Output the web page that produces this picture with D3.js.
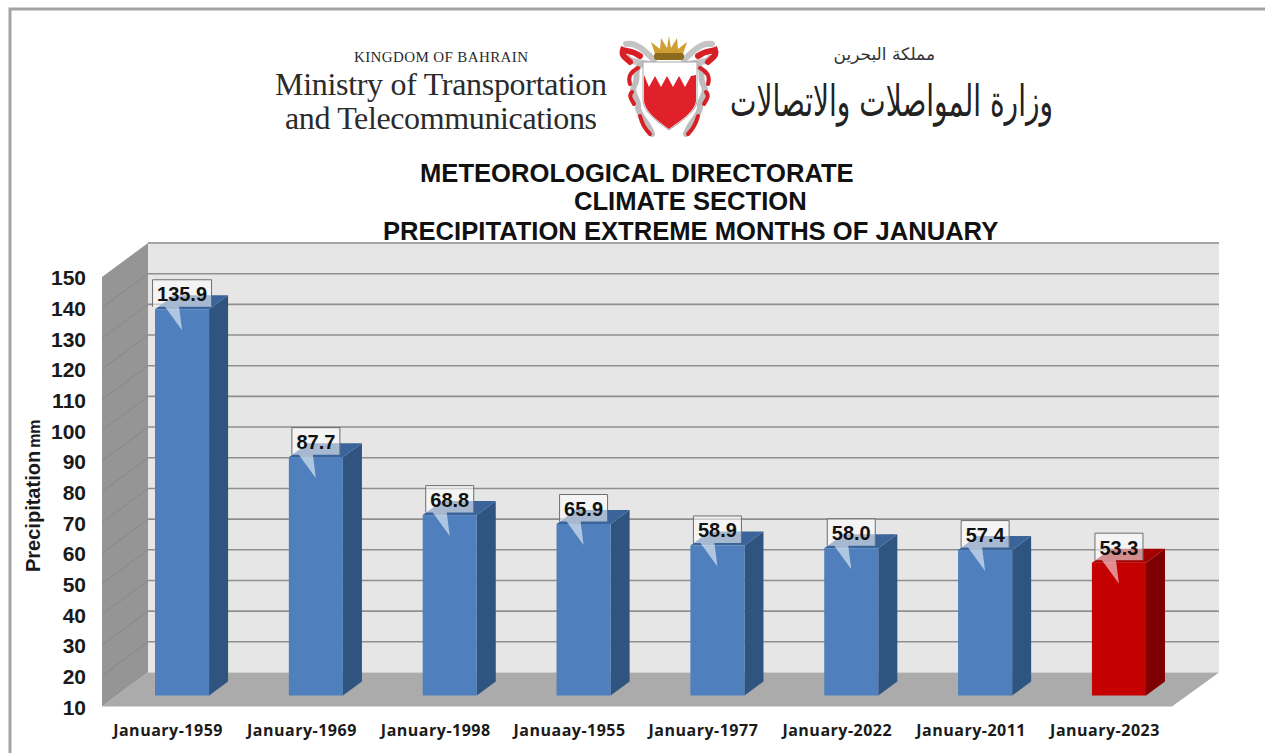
<!DOCTYPE html>
<html lang="en">
  <head>
    <meta charset="utf-8">
    <title>Precipitation extreme months of January</title>
    <script src="https://cdnjs.cloudflare.com/ajax/libs/d3/7.8.5/d3.min.js"></script>
    <style type="text/css">

html, body {
  margin: 0;
  padding: 0;
  background: #fff;
}

svg {
  display: block;
  font-family: "Liberation Sans", sans-serif;
}

.title {
  font-size: 25.6px;
  font-weight: bold;
  fill: #111;
}

.logo-text {
  font-family: "Liberation Serif", serif;
  fill: #2b2b2b;
}

.y-axis text {
  font-size: 21px;
  font-weight: bold;
  fill: #1a1a1a;
}

.x-axis text {
  font-family: "Open Sans", sans-serif;
  font-size: 16px;
  letter-spacing: 0.5px;
  font-weight: bold;
  fill: #1a1a1a;
}

.value {
  font-size: 20px;
  font-weight: bold;
  fill: #111;
  text-anchor: middle;
}

    </style>
  </head>

  <body>
    <div id="mainCanvas"></div>

    <script>
      var categories = ["January-1959", "January-1969", "January-1998", "Januaay-1955",
                        "January-1977", "January-2022", "January-2011", "January-2023"];
      var precipitation = [135.9, 87.7, 68.8, 65.9, 58.9, 58.0, 57.4, 53.3];
      var valueLabels = ["135.9", "87.7", "68.8", "65.9", "58.9", "58.0", "57.4", "53.3"];
      var yTicks = [10, 20, 30, 40, 50, 60, 70, 80, 90, 100, 110, 120, 130, 140, 150];
      var highlighted = ["January-2023"];

      var titleLines = [
        {text: "METEOROLOGICAL DIRECTORATE", x: 420, y: 182},
        {text: "CLIMATE SECTION", x: 574, y: 210},
        {text: "PRECIPITATION EXTREME MONTHS OF JANUARY", x: 383, y: 240}
      ];

      var width = 1265, height = 753;

      var svg = d3.select("#mainCanvas").append("svg")
          .attr("width", width)
          .attr("height", height);

      // frame of the screenshot
      svg.append("path")
          .attr("d", "M10,753V9H1265")
          .attr("fill", "none")
          .attr("stroke", "#a3a3a3")
          .attr("stroke-width", 3);

      // scales are for the plane the bars stand on, walls are shifted from it
      var x = d3.scaleBand()
          .domain(categories)
          .range([155, 1146])
          .paddingInner(0.596);

      var y = d3.scaleLinear()
          .domain([10, 150])
          .range([695.5, 266]);

      var depth = {x: 19, y: 14};      // bar depth
      var wallShift = -23;             // back wall from bar plane
      var edgeShift = 11;              // front edge from bar plane
      var wallLeft = 148, wallRight = 1219, edgeLeft = 102, edgeRight = 1172;

      function poly(points) {
        return "M" + points.map(function(p) { return p.join(","); }).join("L") + "Z";
      }

      var chart = svg.append("g");

      // back wall
      chart.append("rect")
          .attr("x", wallLeft)
          .attr("y", y(150) + wallShift)
          .attr("width", wallRight - wallLeft)
          .attr("height", y(10) - y(150))
          .attr("fill", "#e6e6e6");

      // left wall
      chart.append("path")
          .attr("d", poly([[edgeLeft, y(150) + edgeShift], [wallLeft, y(150) + wallShift],
                           [wallLeft, y(10) + wallShift], [edgeLeft, y(10) + edgeShift]]))
          .attr("fill", "#959595");

      // floor
      chart.append("path")
          .attr("d", poly([[edgeLeft, y(10) + edgeShift], [wallLeft, y(10) + wallShift],
                           [wallRight, y(10) + wallShift], [edgeRight, y(10) + edgeShift]]))
          .attr("fill", "#ababab");

      chart.append("line")
          .attr("x1", wallLeft).attr("x2", wallRight)
          .attr("y1", y(150) + wallShift).attr("y2", y(150) + wallShift)
          .attr("stroke", "#a6a6a6")
          .attr("stroke-width", 2);

      var gridTicks = yTicks.filter(function(d) { return d > 10 && d < 150; });

      chart.selectAll(".grid")
          .data(gridTicks)
          .enter()
          .append("line")
            .attr("class", "grid")
            .attr("x1", wallLeft)
            .attr("x2", wallRight)
            .attr("y1", function(d) { return y(d) + wallShift; })
            .attr("y2", function(d) { return y(d) + wallShift; })
            .attr("stroke", "#8f8f8f")
            .attr("stroke-width", 1.6);

      chart.selectAll(".grid-side")
          .data(gridTicks)
          .enter()
          .append("line")
            .attr("class", "grid-side")
            .attr("x1", edgeLeft)
            .attr("x2", wallLeft)
            .attr("y1", function(d) { return y(d) + edgeShift; })
            .attr("y2", function(d) { return y(d) + wallShift; })
            .attr("stroke", "#878787")
            .attr("stroke-width", 1);

      // bars
      var bars = chart.selectAll(".bar")
          .data(categories)
          .enter()
          .append("g")
            .attr("class", "bar");

      function isRed(d) { return highlighted.indexOf(d) >= 0; }
      function barValue(i) { return precipitation[i]; }

      bars.append("path")
          .attr("d", function(d, i) {
            var x1 = x(d) + x.bandwidth(), t = y(barValue(i)), b = y(10);
            return poly([[x1, t], [x1 + depth.x, t - depth.y], [x1 + depth.x, b - depth.y], [x1, b]]);
          })
          .attr("fill", function(d) { return isRed(d) ? "#7f0000" : "#2f5480"; });

      bars.append("path")
          .attr("d", function(d, i) {
            var x0 = x(d), x1 = x0 + x.bandwidth(), t = y(barValue(i));
            return poly([[x0, t], [x0 + depth.x, t - depth.y], [x1 + depth.x, t - depth.y], [x1, t]]);
          })
          .attr("fill", function(d) { return isRed(d) ? "#a30000" : "#3b659a"; });

      bars.append("rect")
          .attr("x", function(d) { return x(d); })
          .attr("y", function(d, i) { return y(barValue(i)); })
          .attr("width", x.bandwidth())
          .attr("height", function(d, i) { return y(10) - y(barValue(i)); })
          .attr("fill", function(d) { return isRed(d) ? "#c40000" : "#4f80bd"; });

      // callouts
      var callouts = chart.selectAll(".callout")
          .data(categories)
          .enter()
          .append("g")
            .attr("class", "callout")
            .attr("transform", function(d, i) {
              return "translate(" + (x(d) + x.bandwidth() / 2) + "," + y(barValue(i)) + ")";
            });

      function boxHalf(i) { return valueLabels[i].length > 4 ? 29.5 : 24; }

      callouts.append("path")
          .attr("d", function(d, i) {
            var w = boxHalf(i);
            return "M" + (-w) + ",-29.5H" + w + "V-2.5H-3L0,21L-17,-2.5H" + (-w) + "Z";
          })
          .attr("fill", "#fff")
          .attr("fill-opacity", 0.55);

      callouts.append("path")
          .attr("d", function(d, i) {
            var w = boxHalf(i);
            return "M" + (-w) + ",-2.5V-29.5H" + w + "V-2.5";
          })
          .attr("fill", "none")
          .attr("stroke", "#6e6e6e")
          .attr("stroke-width", 1);

      callouts.append("text")
          .attr("class", "value")
          .attr("x", 0)
          .attr("y", -8)
          .text(function(d, i) { return valueLabels[i]; });

      // axes
      var yAxis = d3.axisLeft(y)
          .tickValues(yTicks)
          .tickSize(0)
          .tickPadding(0)
          .tickFormat(d3.format("d"));

      svg.append("g")
          .attr("class", "y-axis")
          .attr("transform", "translate(86," + (edgeShift + 1) + ")")
          .call(yAxis)
          .call(function(g) { g.select(".domain").remove(); });

      var xAxis = d3.axisBottom(x)
          .tickSize(0)
          .tickPadding(0);

      svg.append("g")
          .attr("class", "x-axis")
          .attr("transform", "translate(-14,725)")
          .call(xAxis)
          .call(function(g) { g.select(".domain").remove(); });

      var yTitle = svg.append("text")
          .attr("transform", "translate(40,572)rotate(-90)")
          .attr("font-weight", "bold")
          .attr("font-size", 20)
          .attr("fill", "#1a1a1a");
      yTitle.append("tspan").text("Precipitation");
      yTitle.append("tspan").attr("dx", 3).attr("font-size", 16).text("mm");

      // titles
      svg.selectAll(".title")
          .data(titleLines)
          .enter()
          .append("text")
            .attr("class", "title")
            .attr("x", function(d) { return d.x; })
            .attr("y", function(d) { return d.y; })
            .text(function(d) { return d.text; });

      // ministry header
      var logo = svg.append("g");

      logo.append("text").attr("class", "logo-text")
          .attr("x", 354).attr("y", 62)
          .attr("font-size", 15)
          .attr("textLength", 174)
          .text("KINGDOM OF BAHRAIN");
      logo.append("text").attr("class", "logo-text")
          .attr("x", 275).attr("y", 95)
          .attr("font-size", 32)
          .attr("textLength", 332)
          .text("Ministry of Transportation");
      logo.append("text").attr("class", "logo-text")
          .attr("x", 285).attr("y", 129)
          .attr("font-size", 32)
          .attr("textLength", 312)
          .text("and Telecommunications");

      logo.append("text")
          .attr("x", 935).attr("y", 60)
          .attr("direction", "rtl")
          .attr("font-family", "DejaVu Sans")
          .attr("font-size", 17)
          .attr("fill", "#333")
          .text("مملكة البحرين");
      logo.append("text")
          .attr("x", 1053).attr("y", 116)
          .attr("direction", "rtl")
          .attr("font-family", "DejaVu Sans")
          .attr("font-size", 43)
          .attr("fill", "#222")
          .attr("textLength", 323)
          .attr("lengthAdjust", "spacingAndGlyphs")
          .text("وزارة المواصلات والاتصالات");

      // crest
      var crest = logo.append("g");

      [0, 1].forEach(function(side) {
        var m = crest.append("g")
            .attr("transform", side ? "translate(1338,0)scale(-1,1)" : null)
            .attr("fill", "none")
            .attr("stroke-linecap", "round");
        m.append("path")
            .attr("d", "M654,60C644,50 636,42 626,44M650,64C640,62 630,62 628,58")
            .attr("stroke", "#c4c4c4")
            .attr("stroke-width", 6);
        m.append("path")
            .attr("d", "M642,64C632,70 640,78 634,86C630,94 640,100 638,108C640,118 648,122 652,134")
            .attr("stroke", "#bdbdbd")
            .attr("stroke-width", 6);
        m.append("path")
            .attr("d", "M640,56C632,50 628,52 623,50C621,56 626,58 630,62")
            .attr("stroke", "#d81f26")
            .attr("stroke-width", 6);
        m.append("path")
            .attr("d", "M638,68C630,72 628,78 630,84M632,92C628,96 632,100 634,104M640,116C642,124 646,130 650,134")
            .attr("stroke", "#d81f26")
            .attr("stroke-width", 4);
      });

      crest.append("path")
          .attr("d", "M643,62H697V100C697,112 680,122 669,130C658,122 643,112 643,100Z")
          .attr("fill", "#fff")
          .attr("stroke", "#a8a8a8")
          .attr("stroke-width", 1);

      crest.append("path")
          .attr("d", "M644,75L649,87L655,76L661,87L667,76L673,87L679,76L685,87L691,76L696,75V100C696,111 680,121 669,129C658,121 644,111 644,100Z")
          .attr("fill", "#e0202a");

      crest.append("path")
          .attr("d", "M655,54L651,42L660,49L661,38L667,48L669,36L671,48L677,38L678,49L687,42L683,54Z")
          .attr("fill", "#cf9f35");
      crest.append("rect")
          .attr("x", 654).attr("y", 53)
          .attr("width", 30).attr("height", 7)
          .attr("rx", 3)
          .attr("fill", "#8c6a1e");
    </script>
  </body>
</html>
